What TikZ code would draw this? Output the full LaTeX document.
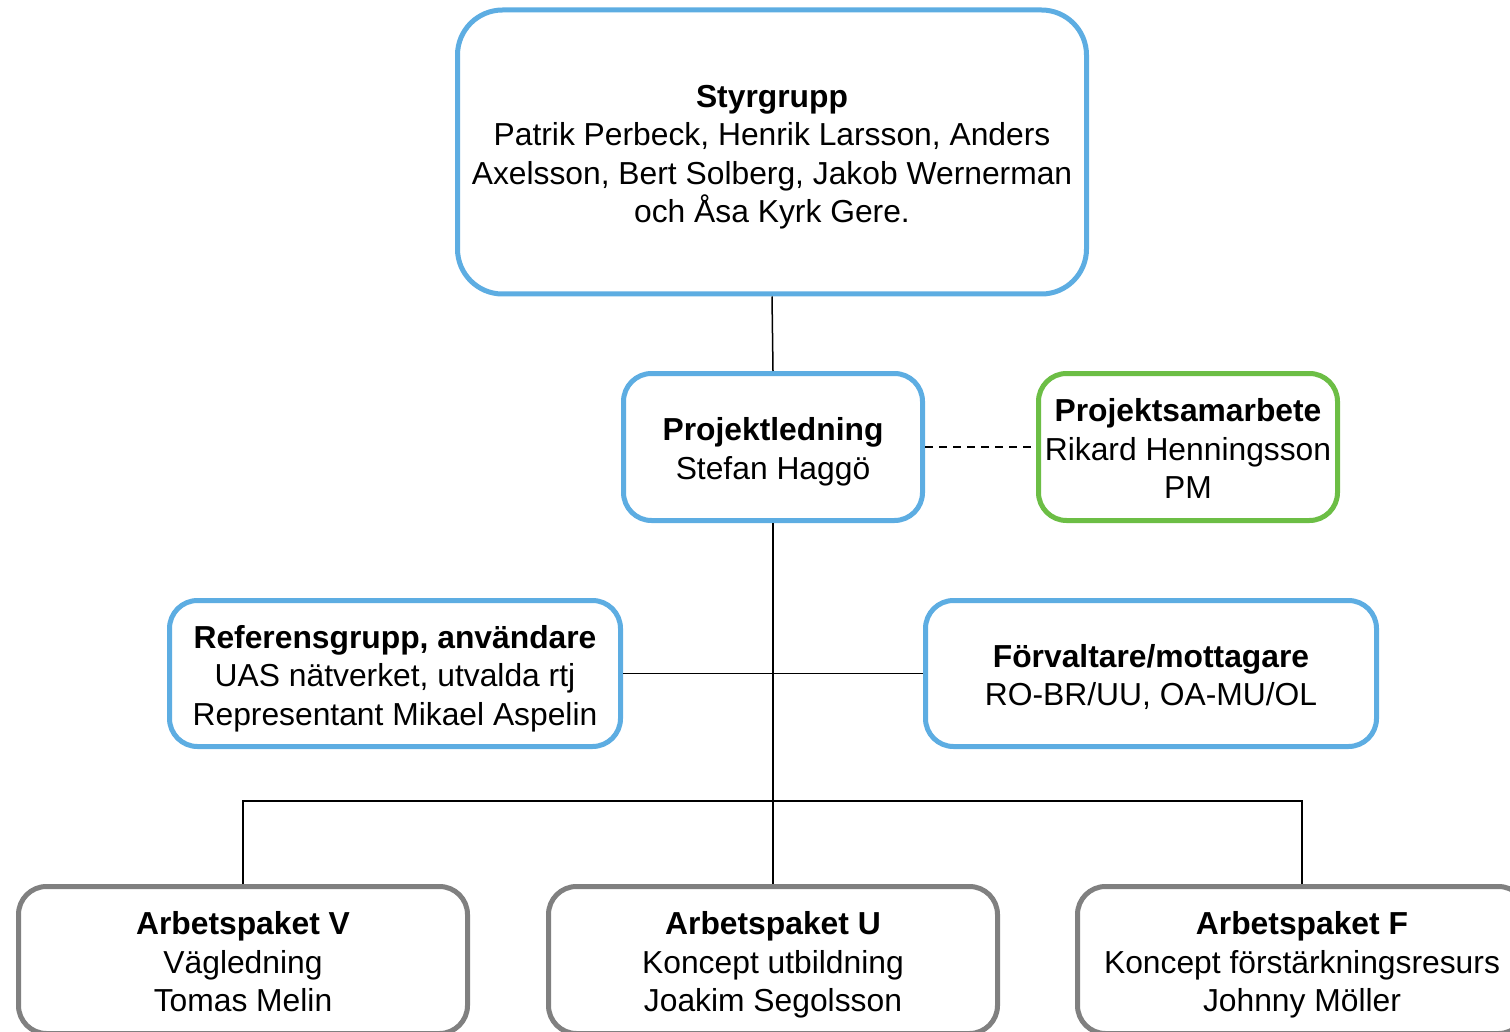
\documentclass[tikz,border=0pt]{standalone}
\usepackage{fontspec}
\setmainfont{Liberation Sans}
\usepackage{tikz}
\definecolor{skyblue}{RGB}{93, 173, 226}
\definecolor{leafgreen}{RGB}{108, 190, 69}
\definecolor{stonegray}{RGB}{128, 128, 128}
\usetikzlibrary{positioning, calc}
\newcommand{\head}[1]{\rule{0pt}{34pt}\textbf{#1}}

\begin{document}
\begin{tikzpicture}[
    x=1pt, y=-1pt,
    team/.style={draw=#1, line width=5pt, rounded corners=28pt,
                 fill=white, inner sep=0pt, align=center,
                 font=\fontsize{31.8}{38.5}\selectfont,
                 execute at end node={\rule[-8pt]{0pt}{8pt}}},
    link/.style={line width=1.5pt, black}
]
    \clip (0,0) rectangle (1510,1032);

    \node[team=skyblue, rounded corners=45pt, minimum width=629pt, minimum height=284pt] (styr) at (772,152) {
        \head{Styrgrupp}\\
        Patrik Perbeck, Henrik Larsson, Anders\\
        Axelsson, Bert Solberg, Jakob Wernerman\\
        och Åsa Kyrk Gere.
    };

    \node[team=skyblue, minimum width=299pt, minimum height=147pt] (ledning) at (773,447) {
        \head{Projektledning}\\
        Stefan Haggö
    };

    \node[team=leafgreen, minimum width=299pt, minimum height=147pt] (samarb) at (1188,447) {
        \head{Projektsamarbete}\\
        Rikard Henningsson\\
        PM
    };

    \node[team=skyblue, minimum width=451pt, minimum height=146pt] (referens) at (395,673.5) {
        \head{Referensgrupp, användare}\\
        UAS nätverket, utvalda rtj\\
        Representant Mikael Aspelin
    };

    \node[team=skyblue, minimum width=451pt, minimum height=146pt] (forvalt) at (1151,673.5) {
        \head{Förvaltare/mottagare}\\
        RO-BR/UU, OA-MU/OL
    };

    \node[team=stonegray, minimum width=449pt, minimum height=147pt] (paketV) at (243,960) {
        \head{Arbetspaket V}\\
        Vägledning\\
        Tomas Melin
    };

    \node[team=stonegray, minimum width=449pt, minimum height=147pt] (paketU) at (773,960) {
        \head{Arbetspaket U}\\
        Koncept utbildning\\
        Joakim Segolsson
    };

    \node[team=stonegray, minimum width=449pt, minimum height=147pt] (paketF) at (1302,960) {
        \head{Arbetspaket F}\\
        Koncept förstärkningsresurs\\
        Johnny Möller
    };

    % Lines between the groups
    \coordinate (bus) at (773,801);
    \draw[link] (styr.south) -- (ledning.north);
    \draw[link, dashed, dash pattern=on 8pt off 6pt] (ledning.east) -- (samarb.west);
    \draw[link] (ledning.south) -- (paketU.north);
    \draw[link] (referens.east) -- (forvalt.west);
    \draw[link] (paketV.north) |- (bus) -| (paketF.north);
\end{tikzpicture}
\end{document}
